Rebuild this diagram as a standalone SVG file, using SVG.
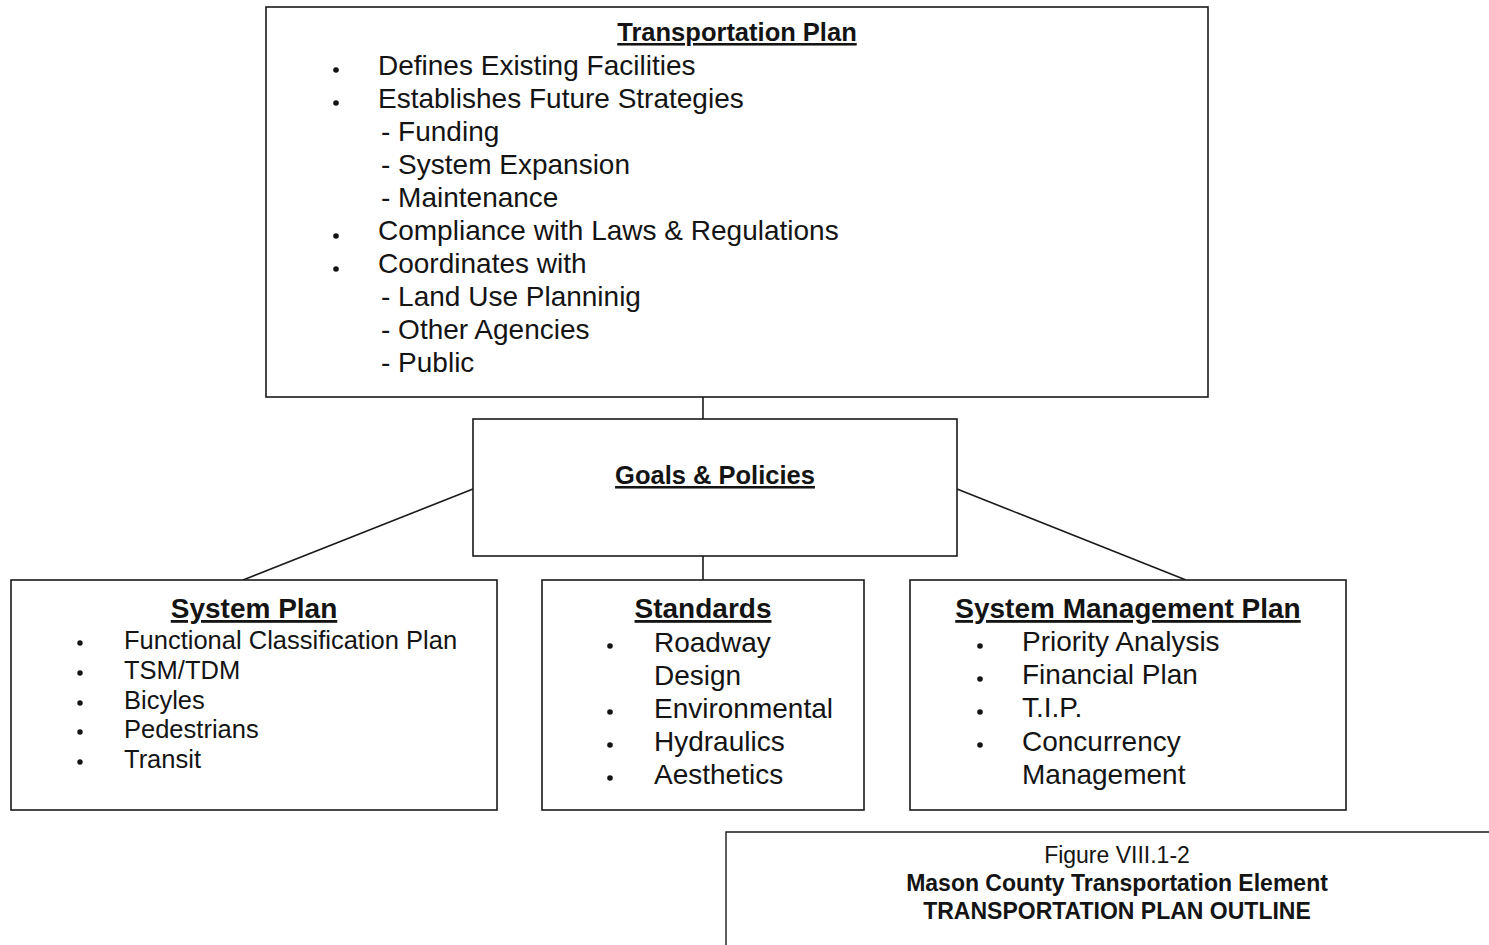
<svg xmlns="http://www.w3.org/2000/svg" width="1489" height="945" viewBox="0 0 1489 945">
  <style>
    .box { fill: #fff; stroke: #1a1a1a; stroke-width: 1.6; }
    .conn line { stroke: #1a1a1a; stroke-width: 1.6; }
    text { font-family: "Liberation Sans", Arial, sans-serif; fill: #141414; }
    .title { font-weight: bold; text-decoration: underline; text-anchor: middle; }
    .t25 { font-size: 25.5px; }
    .t28 { font-size: 28px; }
    .item { font-size: 28px; }
    .small { font-size: 25.5px; }
    .cap { font-size: 23px; text-anchor: middle; }
    .b { font-weight: bold; }
    .dot { fill: #141414; }
  </style>

  <rect width="1489" height="945" fill="#fff"/>

  <!-- connectors between the nodes -->
  <g id="connectors" class="conn">
    <line x1="703" y1="397" x2="703" y2="419"/>
    <line x1="703" y1="556" x2="703" y2="580"/>
    <line x1="473" y1="489" x2="243" y2="580"/>
    <line x1="957" y1="489" x2="1186" y2="580"/>
  </g>

  <!-- Transportation Plan -->
  <g id="transportation-plan">
    <rect class="box" x="266" y="7" width="942" height="390"/>
    <text class="title t25" x="737" y="41">Transportation Plan</text>
    <circle class="dot" cx="336" cy="70" r="2.8"/>
    <circle class="dot" cx="336" cy="103" r="2.8"/>
    <circle class="dot" cx="336" cy="236" r="2.8"/>
    <circle class="dot" cx="336" cy="269" r="2.8"/>
    <text class="item" x="378" y="75">Defines Existing Facilities</text>
    <text class="item" x="378" y="108">Establishes Future Strategies</text>
    <text class="item" x="381" y="141">- Funding</text>
    <text class="item" x="381" y="174">- System Expansion</text>
    <text class="item" x="381" y="207">- Maintenance</text>
    <text class="item" x="378" y="240">Compliance with Laws &amp; Regulations</text>
    <text class="item" x="378" y="273">Coordinates with</text>
    <text class="item" x="381" y="306">- Land Use Planninig</text>
    <text class="item" x="381" y="339">- Other Agencies</text>
    <text class="item" x="381" y="372">- Public</text>
  </g>

  <!-- Goals & Policies -->
  <g id="goals-policies">
    <rect class="box" x="473" y="419" width="484" height="137"/>
    <text class="title t25" x="715" y="484">Goals &amp; Policies</text>
  </g>

  <!-- System Plan -->
  <g id="system-plan">
    <rect class="box" x="11" y="580" width="486" height="230"/>
    <text class="title t28" x="254" y="618">System Plan</text>
    <circle class="dot" cx="80" cy="643" r="2.7"/>
    <circle class="dot" cx="80" cy="673" r="2.7"/>
    <circle class="dot" cx="80" cy="703" r="2.7"/>
    <circle class="dot" cx="80" cy="732" r="2.7"/>
    <circle class="dot" cx="80" cy="762" r="2.7"/>
    <text class="small" x="124" y="649">Functional Classification Plan</text>
    <text class="small" x="124" y="679">TSM/TDM</text>
    <text class="small" x="124" y="709">Bicyles</text>
    <text class="small" x="124" y="738">Pedestrians</text>
    <text class="small" x="124" y="768">Transit</text>
  </g>

  <!-- Standards -->
  <g id="standards">
    <rect class="box" x="542" y="580" width="322" height="230"/>
    <text class="title t28" x="703" y="618">Standards</text>
    <circle class="dot" cx="610" cy="646" r="2.8"/>
    <circle class="dot" cx="610" cy="712" r="2.8"/>
    <circle class="dot" cx="610" cy="745" r="2.8"/>
    <circle class="dot" cx="610" cy="778" r="2.8"/>
    <text class="item" x="654" y="652">Roadway</text>
    <text class="item" x="654" y="685">Design</text>
    <text class="item" x="654" y="718">Environmental</text>
    <text class="item" x="654" y="751">Hydraulics</text>
    <text class="item" x="654" y="784">Aesthetics</text>
  </g>

  <!-- System Management Plan -->
  <g id="system-management-plan">
    <rect class="box" x="910" y="580" width="436" height="230"/>
    <text class="title t28" x="1128" y="618">System Management Plan</text>
    <circle class="dot" cx="980" cy="646" r="2.8"/>
    <circle class="dot" cx="980" cy="679" r="2.8"/>
    <circle class="dot" cx="980" cy="712" r="2.8"/>
    <circle class="dot" cx="980" cy="745" r="2.8"/>
    <text class="item" x="1022" y="651">Priority Analysis</text>
    <text class="item" x="1022" y="684">Financial Plan</text>
    <text class="item" x="1022" y="717">T.I.P.</text>
    <text class="item" x="1022" y="751">Concurrency</text>
    <text class="item" x="1022" y="784">Management</text>
  </g>

  <!-- figure caption block -->
  <g id="caption">
    <polyline points="726,945 726,832 1489,832" fill="none" stroke="#1a1a1a" stroke-width="1.4"/>
    <text class="cap" x="1117" y="863">Figure VIII.1-2</text>
    <text class="cap b" x="1117" y="891">Mason County Transportation Element</text>
    <text class="cap b" x="1117" y="919">TRANSPORTATION PLAN OUTLINE</text>
  </g>
</svg>
